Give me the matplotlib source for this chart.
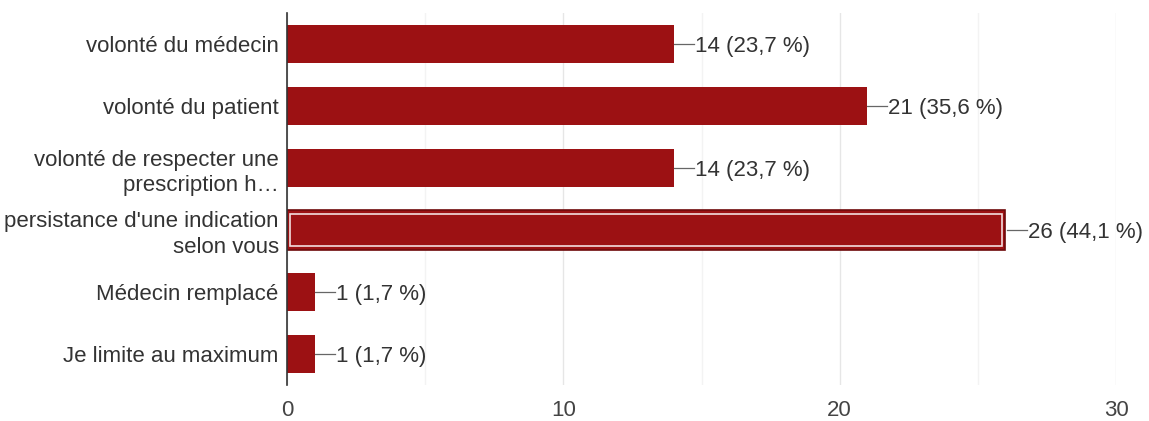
import numpy as np
import matplotlib.pyplot as plt
from matplotlib.ticker import MultipleLocator

plt.rcParams['font.family'] = ['Liberation Sans', 'DejaVu Sans']

labels = ["volonté du médecin",
          "volonté du patient",
          "volonté de respecter une\nprescription h…",
          "persistance d'une indication\nselon vous",
          "Médecin remplacé",
          "Je limite au maximum"]
counts = [14, 21, 14, 26, 1, 1]
pcts = ["23,7", "35,6", "23,7", "44,1", "1,7", "1,7"]
highlight = 3

barColor = '#9c1113'
txtColor = '#333333'
fs = 16

fig = plt.figure(figsize=(11.49, 4.21), dpi=100)
ax = fig.add_axes([287/1149, 1-385/421, (1116-287)/1149, 372/421])

y = np.arange(len(labels))
ax.barh(y, counts, height=0.61, color=barColor, zorder=3)

# hovered bar: dark outline + white inner border
ax.barh(y[highlight], counts[highlight], height=0.63, color=barColor,
        edgecolor='#6e0a0c', linewidth=1.2, zorder=4)
ax.barh(y[highlight], counts[highlight]-0.22, left=0.11, height=0.52,
        fill=False, edgecolor='#f3dede', linewidth=1.2, zorder=5)

pxPerUnit = (1116-287)/30.0
for i in range(len(labels)):
    x0 = counts[i] + (2/pxPerUnit if i == highlight else 0)
    x1 = x0 + 20/pxPerUnit
    ax.plot([x0, x1], [y[i], y[i]], color='#666666', lw=0.9, zorder=3)
    ax.text(x1 + 1/pxPerUnit, y[i], '{} ({} %)'.format(counts[i], pcts[i]),
            va='center_baseline', ha='left', fontsize=fs, color=txtColor)

ax.set_xlim(0, 30)
ax.set_ylim(len(labels)-0.5, -0.5)
ax.xaxis.set_major_locator(MultipleLocator(10))
ax.xaxis.set_minor_locator(MultipleLocator(5))
ax.set_yticks(y)
ax.set_yticklabels(labels, fontsize=fs, color=txtColor, linespacing=1.3)
ax.tick_params(axis='both', which='both', length=0, pad=6)
ax.tick_params(axis='x', labelsize=fs, labelcolor='#444444', pad=11)
ax.grid(axis='x', which='major', color='#e6e6e6', lw=1, zorder=0)
ax.grid(axis='x', which='minor', color='#f3f3f3', lw=1, zorder=0)
for s in ['top', 'right', 'bottom']:
    ax.spines[s].set_visible(False)
ax.spines['left'].set_color('#333333')
ax.spines['left'].set_linewidth(1.2)
ax.spines['left'].set_zorder(6)

fig.savefig('out.png', dpi=100)
